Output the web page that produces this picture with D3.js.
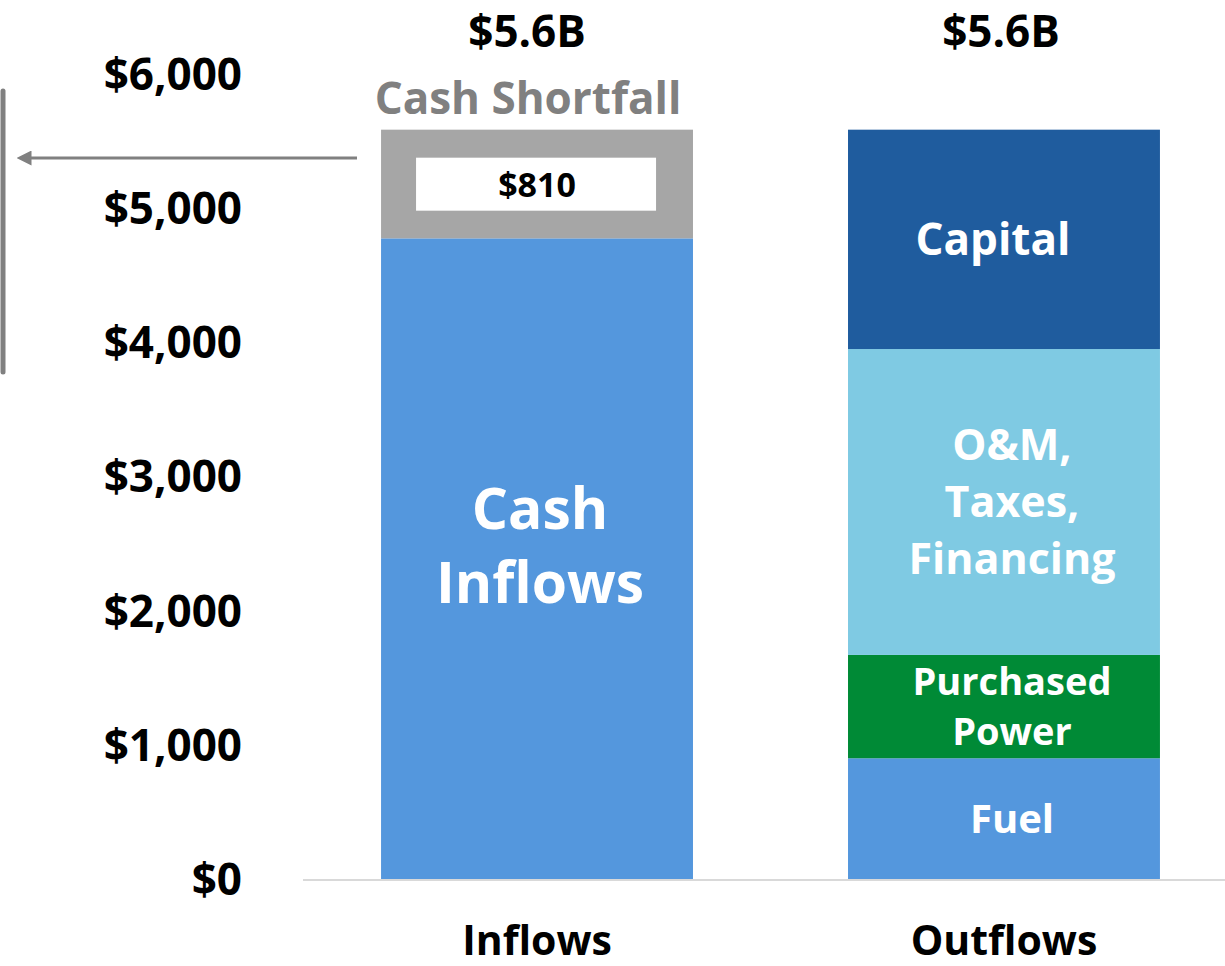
<!DOCTYPE html>
<html>
<head>
<meta charset="utf-8">
<script src="https://cdn.jsdelivr.net/npm/d3@7"></script>
<style>
  body { margin: 0; background: #fff; }
  svg text { font-family: "Open Sans", Lato, sans-serif; font-weight: 700; }
</style>
</head>
<body>
<div id="chart"></div>
<script>
// categories and stacked values ($M)
const categories = ["Inflows", "Outflows"];
const inflowSegments = ["Cash Inflows", "Cash Shortfall"];
const inflowValues = [4775, 810];
const outflowSegments = ["Fuel", "Purchased Power", "O&M, Taxes, Financing", "Capital"];
const outflowValues = [900, 770, 2280, 1635];
const totalLabels = ["$5.6B", "$5.6B"];
const yTicks = [0, 1000, 2000, 3000, 4000, 5000, 6000];

const width = 1225, height = 966;
const svg = d3.select("#chart").append("svg")
    .attr("width", width)
    .attr("height", height);

const x = d3.scaleBand()
    .domain(categories)
    .range([304, 1237])
    .paddingInner(0.332)
    .paddingOuter(0.165);

const y = d3.scaleLinear()
    .domain([0, 6000])
    .range([879, 74]);

// y axis labels
svg.append("g")
    .selectAll("text")
    .data(yTicks)
    .join("text")
    .attr("x", 242)
    .attr("y", d => y(d))
    .attr("dy", "0.36em")
    .attr("text-anchor", "end")
    .attr("font-size", 44)
    .attr("fill", "#000")
    .text(d => "$" + d3.format(",")(d));

// build stacks
function stack(names, values, colors) {
    let acc = 0;
    return names.map((n, i) => {
        const s = { name: n, y0: acc, y1: acc + values[i], color: colors[i] };
        acc += values[i];
        return s;
    });
}
const inflowStack = stack(inflowSegments, inflowValues, ["#5497dd", "#a6a6a6"]);
const outflowStack = stack(outflowSegments, outflowValues, ["#5497dd", "#008a36", "#7fcae3", "#1f5c9e"]);
const stacks = [inflowStack, outflowStack];

stacks.forEach((segs, ci) => {
    const cat = categories[ci];
    svg.append("g")
        .selectAll("rect")
        .data(segs)
        .join("rect")
        .attr("x", x(cat))
        .attr("width", x.bandwidth())
        .attr("y", d => y(d.y1))
        .attr("height", d => y(d.y0) - y(d.y1))
        .attr("fill", d => d.color);
});

// baseline
svg.append("line")
    .attr("x1", 303).attr("x2", 1225)
    .attr("y1", y(0) + 1).attr("y2", y(0) + 1)
    .attr("stroke", "#d9d9d9")
    .attr("stroke-width", 2);

// category labels
svg.append("g")
    .selectAll("text")
    .data(categories)
    .join("text")
    .attr("x", d => x(d) + x.bandwidth() / 2)
    .attr("y", 955)
    .attr("text-anchor", "middle")
    .attr("font-size", 41)
    .attr("fill", "#000")
    .text(d => d);

// totals on top
svg.append("g")
    .selectAll("text")
    .data(categories)
    .join("text")
    .attr("x", (d, i) => x(d) + x.bandwidth() / 2 + (i === 0 ? -10 : -3))
    .attr("y", 31)
    .attr("dy", "0.36em")
    .attr("text-anchor", "middle")
    .attr("font-size", 44)
    .attr("fill", "#000")
    .text((d, i) => totalLabels[i]);

// segment labels
function segLabel(cx, cy, lines, size, color, lh) {
    const t = svg.append("text")
        .attr("x", cx)
        .attr("text-anchor", "middle")
        .attr("font-size", size)
        .attr("fill", color);
    const startY = cy - (lines.length - 1) * lh / 2;
    lines.forEach((l, i) => {
        t.append("tspan")
            .attr("x", cx)
            .attr("y", startY + i * lh)
            .attr("dy", "0.36em")
            .text(l);
    });
}

const inX = x("Inflows") + x.bandwidth() / 2;
const outX = x("Outflows") + x.bandwidth() / 2;
const shortfall = inflowStack[1];

segLabel(inX + 3, 545, ["Cash", "Inflows"], 57, "#fff", 74);
segLabel(inX - 9, 98, ["Cash Shortfall"], 44, "#808080", 0);

// white box with shortfall amount
svg.append("rect")
    .attr("x", x("Inflows") + 35)
    .attr("width", 240)
    .attr("y", y(shortfall.y1) + 28)
    .attr("height", 53)
    .attr("fill", "#fff");
segLabel(inX, y(shortfall.y1) + 55, ["$" + (shortfall.y1 - shortfall.y0)], 34, "#000", 0);

const [fuel, pp, om, capital] = outflowStack;
segLabel(outX - 11, (y(capital.y0) + y(capital.y1)) / 2, ["Capital"], 44, "#fff", 0);
segLabel(outX + 8, (y(om.y0) + y(om.y1)) / 2, ["O&M,", "Taxes,", "Financing"], 43, "#fff", 57);
segLabel(outX + 8, (y(pp.y0) + y(pp.y1)) / 2, ["Purchased", "Power"], 38, "#fff", 50);
segLabel(outX + 8, (y(fuel.y0) + y(fuel.y1)) / 2, ["Fuel"], 40, "#fff", 0);

// bracket and arrow on the left
svg.append("line")
    .attr("x1", 3).attr("x2", 3)
    .attr("y1", 91).attr("y2", 372)
    .attr("stroke", "#808080")
    .attr("stroke-width", 5)
    .attr("stroke-linecap", "round");

svg.append("defs").append("marker")
    .attr("id", "arrow")
    .attr("viewBox", "0 0 10 10")
    .attr("refX", 1).attr("refY", 5)
    .attr("markerWidth", 5).attr("markerHeight", 5)
    .attr("orient", "auto-start-reverse")
    .append("path")
    .attr("d", "M0,0 L10,5 L0,10 z")
    .attr("fill", "#808080");

svg.append("line")
    .attr("x1", 357).attr("x2", 30)
    .attr("y1", 158).attr("y2", 158)
    .attr("stroke", "#808080")
    .attr("stroke-width", 3)
    .attr("marker-end", "url(#arrow)");
</script>
</body>
</html>
